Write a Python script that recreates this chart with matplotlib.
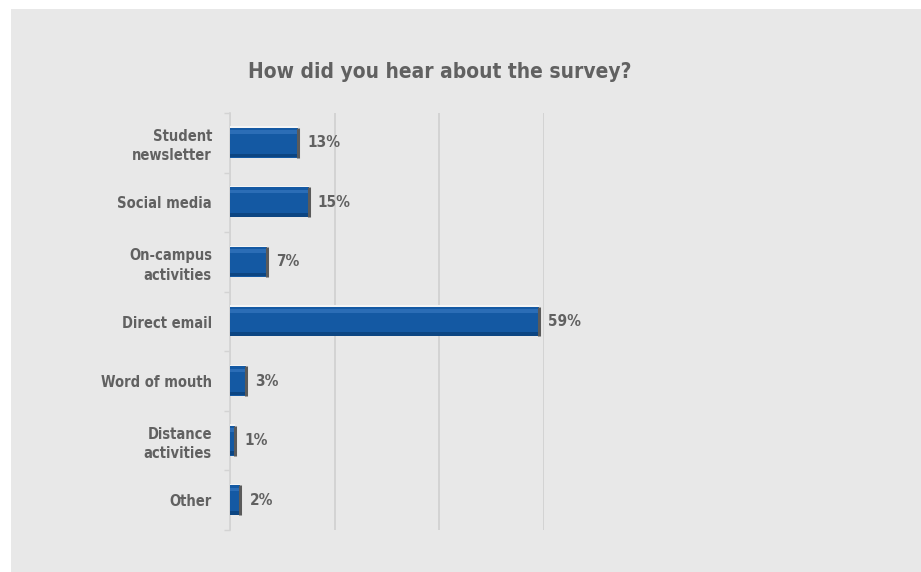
import numpy as np
import matplotlib.pyplot as plt
from matplotlib import font_manager
from matplotlib.patches import Rectangle

categories = ['Student\nnewsletter', 'Social media', 'On-campus\nactivities',
              'Direct email', 'Word of mouth', 'Distance\nactivities', 'Other']
values = [13, 15, 7, 59, 3, 1, 2]
title = 'How did you hear about the survey?'

# look for a narrow / condensed bold face, the original uses one
narrow = None
for f in font_manager.fontManager.ttflist:
    if ('Narrow' in f.name or 'Condensed' in f.name or f.stretch in ('condensed', 'semi-condensed')) \
            and f.weight in ('bold', 700):
        narrow = f.name
        break
FONT = ([narrow] if narrow else []) + ['DejaVu Sans']

TXT = '#616161'
BG = '#e8e8e8'

fig = plt.figure(figsize=(9.21, 5.72), dpi=100, facecolor='white')
fig.patches.append(Rectangle((11 / 921, 0), 1, 1 - 9 / 572,
                             transform=fig.transFigure, facecolor=BG,
                             edgecolor='none', zorder=-10))

ax = fig.add_axes([230 / 921, 1 - 530 / 572, (544 - 230) / 921, (530 - 113) / 572])
ax.set_facecolor('none')

y = np.arange(len(categories))
h = 0.5
ax.barh(y, values, height=h, color='#1459a3', edgecolor='none', zorder=3)
# bevel: lighter top, darker bottom
ax.barh(y - h * 0.36, values, height=h * 0.12, color='#2b6db6',
        edgecolor='none', zorder=4)
ax.barh(y + h * 0.42, values, height=h * 0.12, color='#0c4582',
        edgecolor='none', zorder=4)
ax.barh(y - h / 2 - 0.012, values, height=0.025, color='#f5f5f5',
        edgecolor='none', zorder=4)
ax.vlines(values, y - h / 2, y + h / 2, colors='#5a5a5a', linewidth=2.2, zorder=5)

for yi, v in zip(y, values):
    ax.text(v + 1.8, yi, f'{v}%', va='center', ha='left', fontsize=11,
            fontweight='bold', color=TXT, family=FONT, fontstretch='condensed', zorder=6)

ax.set_xlim(0, 60)
ax.set_ylim(len(categories) - 0.5, -0.5)
ax.set_xticks([0, 20, 40, 60])
ax.xaxis.grid(True, color='#d3d3d3', linewidth=1.4)
ax.set_axisbelow(True)
ax.tick_params(axis='x', bottom=False, labelbottom=False)

ax.set_yticks(np.arange(-0.5, len(categories) + 0.5, 1))
ax.set_yticklabels([])
ax.set_yticks(y, minor=True)
ax.set_yticklabels(categories, minor=True, fontsize=10.5, fontweight='bold',
                   color=TXT, family=FONT, fontstretch='condensed', linespacing=1.35)
ax.tick_params(axis='y', which='major', length=4, color='#d3d3d3', width=1)
ax.tick_params(axis='y', which='minor', length=0, pad=13)
for lab in ax.get_yticklabels(minor=True):
    lab.set_horizontalalignment('right')

for side in ['top', 'right', 'bottom']:
    ax.spines[side].set_visible(False)
ax.spines['left'].set_color('#d3d3d3')
ax.spines['left'].set_linewidth(1.2)

fig.text(440 / 921, 1 - 72 / 572, title, ha='center', va='center',
         fontsize=15, fontweight='bold', color=TXT, family=FONT, fontstretch='condensed')

fig.savefig('out.png', dpi=100, facecolor=fig.get_facecolor())
